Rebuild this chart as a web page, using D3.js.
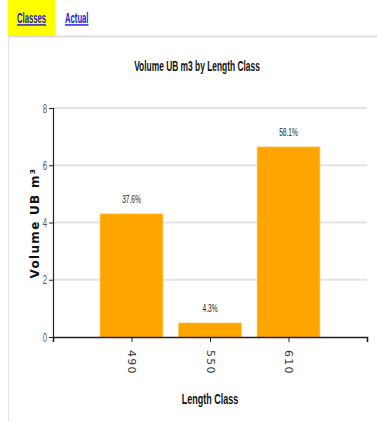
<!DOCTYPE html>
<html>
<head>
<meta charset="utf-8">
<script src="https://cdn.jsdelivr.net/npm/d3@7"></script>
<style>
  html, body { margin: 0; padding: 0; background: #fff; }
  svg { display: block; }
</style>
</head>
<body>
<svg id="chart" width="377" height="422"></svg>
<script>
// Volume per length class
const categories = ["490", "550", "610"];
const volumes = [4.30, 0.49, 6.64];
const yTicks = [0, 2, 4, 6, 8];
const tabs = ["Classes", "Actual"];

const svg = d3.select("#chart");
const W = 377, H = 422;
const margin = { left: 53, right: 10, top: 108, bottom: 85 };
const NARROW = "'Liberation Sans', Arial, sans-serif";

// Condensed text: a horizontally squeezed sans-serif label placed at (x, y)
function narrow(parent, x, y, txt, opts) {
  const o = Object.assign({ size: 12, squeeze: 0.65, weight: "normal", fill: "#111", anchor: "middle" }, opts || {});
  return parent.append("text")
    .attr("transform", `translate(${x},${y}) scale(${o.squeeze},1)`)
    .attr("font-family", NARROW)
    .attr("font-size", o.size)
    .attr("font-weight", o.weight)
    .attr("fill", o.fill)
    .attr("text-anchor", o.anchor)
    .text(txt);
}

// Tab strip
svg.append("rect").attr("x", 8).attr("y", 0).attr("width", 47).attr("height", 36).attr("fill", "#ffff00");
svg.append("line").attr("x1", 8).attr("x2", W).attr("y1", 36.5).attr("y2", 36.5)
  .attr("stroke", "#dcdcdc").attr("stroke-width", 2);
svg.append("line").attr("x1", 8.5).attr("x2", 8.5).attr("y1", 36).attr("y2", H)
  .attr("stroke", "#e4e4e4").attr("stroke-width", 1);
const tabX = [17, 65];
tabs.forEach((t, i) => {
  narrow(svg, tabX[i], 23, t, { size: 14, squeeze: 0.55, weight: "bold", fill: "#1a1ad0", anchor: "start" })
    .attr("text-decoration", "underline");
});

// Scales
const x = d3.scalePoint().domain(categories).range([margin.left, W - margin.right]).padding(1);
const step = x.step();
const barW = step * 0.8;
const y = d3.scaleLinear().domain([0, 8]).range([337, margin.top]);

// Gridlines
svg.append("g").selectAll("line").data(yTicks.filter(d => d > 0)).join("line")
  .attr("x1", margin.left).attr("x2", W - margin.right)
  .attr("y1", d => y(d)).attr("y2", d => y(d))
  .attr("stroke", "#e3e3e3").attr("stroke-width", 2);

// Bars
const total = d3.sum(volumes);
const data = categories.map((c, i) => ({ c, v: volumes[i] }));
svg.append("g").selectAll("rect").data(data).join("rect")
  .attr("x", d => x(d.c) - barW / 2)
  .attr("width", barW)
  .attr("y", d => y(d.v))
  .attr("height", d => y(0) - y(d.v))
  .attr("fill", "#ffa500")
  .attr("stroke", "#ffc04d").attr("stroke-width", 0.6);

// Percentage labels
const pctG = svg.append("g");
data.forEach(d => {
  narrow(pctG, x(d.c), y(d.v) - 11, (d.v / total * 100).toFixed(1) + "%",
    { size: 11, squeeze: 0.6, fill: "#222" });
});

// Y axis
const yAxis = svg.append("g").attr("transform", `translate(${margin.left},0)`)
  .call(d3.axisLeft(y).tickValues(yTicks).tickSize(4).tickFormat(""));
yAxis.select(".domain").attr("stroke", "#222").attr("stroke-width", 1.2);
yAxis.selectAll(".tick line").attr("stroke", "#222");
yAxis.selectAll(".tick").each(function (d) {
  narrow(d3.select(this), -6, 4, d, { size: 13, squeeze: 0.6, fill: "#555", anchor: "end" });
});

// X axis
const xAxis = svg.append("g").attr("transform", `translate(0,${y(0)})`)
  .call(d3.axisBottom(x).tickSize(5).tickSizeOuter(5));
xAxis.select(".domain").attr("stroke", "#222").attr("stroke-width", 1.6);
xAxis.selectAll(".tick line").attr("stroke", "#222");
xAxis.selectAll(".tick text")
  .attr("font-family", "'DejaVu Sans', sans-serif")
  .attr("font-size", 11).attr("fill", "#333")
  .attr("letter-spacing", 1.2)
  .attr("transform", "rotate(90)")
  .attr("x", 13).attr("y", 0).attr("dy", "0.35em")
  .attr("text-anchor", "start");

// Titles
narrow(svg, 197, 71, "Volume UB m3 by Length Class", { size: 14, squeeze: 0.6, weight: "bold" });
narrow(svg, 210, 404, "Length Class", { size: 15, squeeze: 0.6, weight: "bold" });

svg.append("text")
  .attr("transform", "translate(39,223) rotate(-90)")
  .attr("text-anchor", "middle")
  .attr("font-family", "'DejaVu Sans', Verdana, sans-serif")
  .attr("font-size", 12).attr("font-weight", "bold").attr("fill", "#111")
  .attr("letter-spacing", 1.3)
  .text("Volume UB m³");
</script>
</body>
</html>
